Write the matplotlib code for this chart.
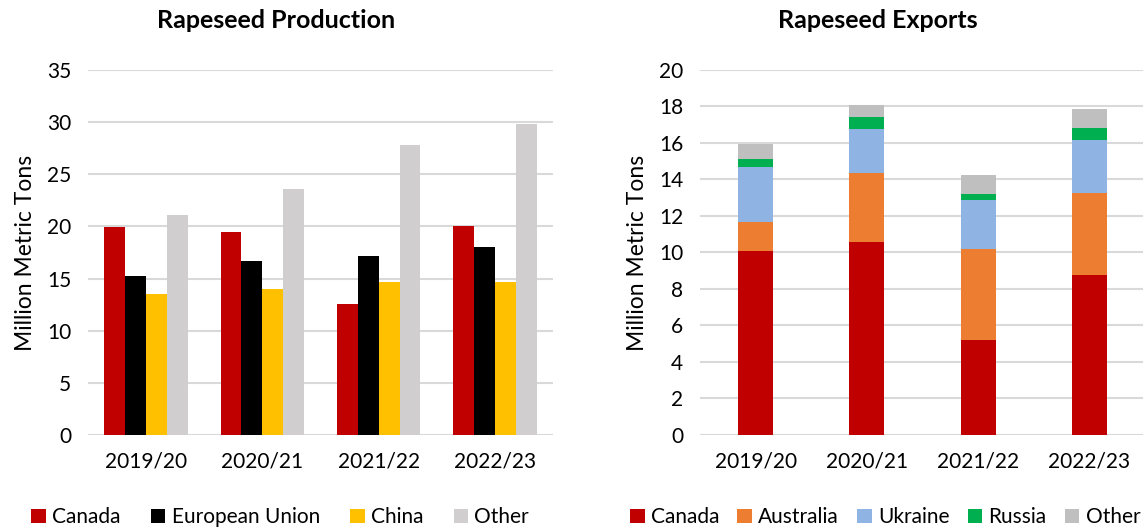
import matplotlib
matplotlib.use("Agg")
import matplotlib.pyplot as plt
import numpy as np

plt.rcParams['font.family'] = ['Lato', 'DejaVu Sans']

# data
years = ["2019/20", "2020/21", "2021/22", "2022/23"]

prod_names = ["Canada", "European Union", "China", "Other"]
prod_canada = [19.9, 19.5, 12.6, 20.0]
prod_eu = [15.2, 16.7, 17.2, 18.0]
prod_china = [13.5, 14.0, 14.7, 14.7]
prod_other = [21.1, 23.6, 27.8, 29.8]
prod_colors = ["#C00000", "#000000", "#FFC000", "#D0CECE"]

exp_names = ["Canada", "Australia", "Ukraine", "Russia", "Other"]
exp_canada = [10.06, 10.59, 5.18, 8.78]
exp_australia = [1.63, 3.76, 5.03, 4.50]
exp_ukraine = [3.02, 2.39, 2.69, 2.86]
exp_russia = [0.39, 0.66, 0.33, 0.69]
exp_other = [0.87, 0.70, 1.04, 1.03]
exp_colors = ["#C00000", "#ED7D31", "#8FB4E3", "#00B050", "#BFBFBF"]

grid_col = "#D9D9D9"

fig = plt.figure(figsize=(11.43, 5.29), dpi=100)


def style_axis(ax):
    for s in ax.spines.values():
        s.set_visible(False)
    ax.yaxis.grid(True, color=grid_col, linewidth=1.5)
    ax.set_axisbelow(True)
    ax.tick_params(length=0, labelsize=15, colors="#000000")
    ax.tick_params(axis="x", pad=12)
    ax.tick_params(axis="y", pad=12)
    ax.set_ylabel("Million Metric Tons", fontsize=16.5, labelpad=8)


# production (grouped)
ax1 = fig.add_axes([0.077, 0.1777, 0.4068, 0.69])
x = np.arange(len(years))
w = 0.18
series = [prod_canada, prod_eu, prod_china, prod_other]
for i, (vals, name, c) in enumerate(zip(series, prod_names, prod_colors)):
    ax1.bar(x + (i - 1.5) * w, vals, w, color=c, label=name)
ax1.set_xlim(-0.5, 3.5)
ax1.set_ylim(0, 35)
ax1.set_yticks(range(0, 36, 5))
ax1.set_xticks(x)
ax1.set_xticklabels(years)
style_axis(ax1)
ax1.legend(loc="center", bbox_to_anchor=(0.413, -0.225), ncol=4, frameon=False,
           fontsize=15, handlelength=0.7, handleheight=0.7, handletextpad=0.3,
           columnspacing=1.45)

# exports (stacked)
ax2 = fig.add_axes([0.6124, 0.1777, 0.3893, 0.69])
bottom = np.zeros(len(years))
series = [exp_canada, exp_australia, exp_ukraine, exp_russia, exp_other]
for vals, name, c in zip(series, exp_names, exp_colors):
    ax2.bar(x, vals, 0.315, bottom=bottom, color=c, label=name)
    bottom += np.array(vals)
ax2.set_xlim(-0.5, 3.5)
ax2.set_ylim(0, 20)
ax2.set_yticks(range(0, 21, 2))
ax2.set_xticks(x)
ax2.set_xticklabels(years)
style_axis(ax2)
ax2.legend(loc="center", bbox_to_anchor=(0.416, -0.225), ncol=5, frameon=False,
           fontsize=15, handlelength=0.7, handleheight=0.7, handletextpad=0.3,
           columnspacing=0.87)

fig.text(0.2415, 0.962, "Rapeseed Production", ha="center", va="center",
         fontsize=18, fontweight="bold")
fig.text(0.768, 0.962, "Rapeseed Exports", ha="center", va="center",
         fontsize=18, fontweight="bold")

fig.savefig("out.png", dpi=100)
